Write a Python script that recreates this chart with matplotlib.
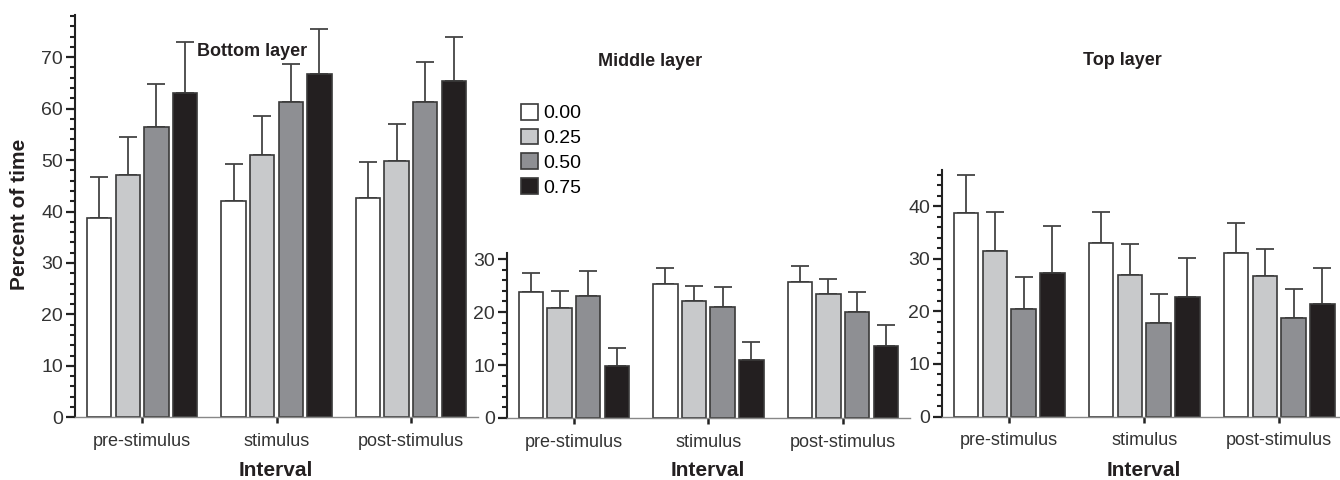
import numpy as np
import matplotlib
matplotlib.use('Agg')
from matplotlib import pyplot as plt
from matplotlib.ticker import MultipleLocator

plt.rcParams['font.family'] = ['Liberation Sans', 'DejaVu Sans']

# Data (rows = concentration, columns = interval)
intervals = ['pre-stimulus', 'stimulus', 'post-stimulus']
concentrations = ['0.00', '0.25', '0.50', '0.75']
colors = ['#ffffff', '#c8c9cb', '#8e8f93', '#231f20']

bottom_mean = [[38.8, 42.0, 42.7], [47.1, 51.0, 49.9], [56.4, 61.3, 61.3], [63.0, 66.8, 65.3]]
bottom_sd = [[7.9, 7.3, 6.9], [7.4, 7.6, 7.1], [8.4, 7.4, 7.7], [10.0, 8.7, 8.6]]

middle_mean = [[23.8, 25.3, 25.7], [20.8, 22.1, 23.4], [23.1, 21.0, 20.1], [9.8, 10.9, 13.6]]
middle_sd = [[3.6, 3.1, 3.0], [3.2, 2.9, 2.8], [4.6, 3.8, 3.7], [3.5, 3.5, 3.9]]

top_mean = [[38.8, 33.0, 31.2], [31.6, 26.9, 26.7], [20.4, 17.8, 18.7], [27.4, 22.7, 21.4]]
top_sd = [[7.2, 6.0, 5.6], [7.3, 5.9, 5.2], [6.1, 5.5, 5.5], [8.9, 7.5, 6.9]]

W, H = 1340, 480
fig = plt.figure(figsize=(W / 100, H / 100), dpi=100)


def rect(x0, y0, x1, y1):
    return [x0 / W, 1 - y1 / H, (x1 - x0) / W, (y1 - y0) / H]


def draw(ax, means, sds, ymax, xmax=2.5):
    x = np.arange(len(intervals))
    step = 0.213
    for i in range(len(concentrations)):
        off = (i - 1.5) * step
        ax.bar(x + off, means[i], 0.182, color=colors[i], edgecolor='#3a3a3a',
               linewidth=1.2, zorder=2, label=concentrations[i])
        ax.errorbar(x + off, means[i], yerr=[np.zeros(3), sds[i]], fmt='none',
                    ecolor='#444444', elinewidth=1.3, capsize=6.5, capthick=1.3, zorder=1)
    ax.set_xlim(-0.5, xmax)
    ax.set_ylim(0, ymax)
    ax.set_xticks(x)
    ax.set_xticklabels(intervals, fontsize=13, color='#333333')
    ax.yaxis.set_major_locator(MultipleLocator(10))
    ax.yaxis.set_minor_locator(MultipleLocator(2))
    ax.tick_params(axis='y', which='major', length=6.5, width=1.6, labelsize=14,
                   labelcolor='#333333', color='#222222', pad=2)
    ax.tick_params(axis='y', which='minor', length=3.6, width=1.5, color='#222222')
    ax.tick_params(axis='x', length=4.3, width=1.8, color='#222222', pad=7)
    for s in ['top', 'right']:
        ax.spines[s].set_visible(False)
    ax.spines['left'].set_color('#222222')
    ax.spines['left'].set_linewidth(1.5)
    ax.spines['bottom'].set_color('#888888')
    ax.spines['bottom'].set_linewidth(1.0)
    ax.patch.set_alpha(0)


ax1 = fig.add_axes(rect(75, 15, 478, 417.3))
draw(ax1, bottom_mean, bottom_sd, 78.2)
ax2 = fig.add_axes(rect(506.7, 252.7, 910, 418))
draw(ax2, middle_mean, middle_sd, 31.2)
ax3 = fig.add_axes(rect(941.7, 170, 1340, 416.5))
draw(ax3, top_mean, top_sd, 46.95, xmax=2.45)

# titles and labels
def ftext(x, y, s, **kw):
    fig.text(x / W, 1 - y / H, s, ha='center', va='center', fontweight='bold',
             color='#231f20', **kw)

ftext(251.7, 51.7, 'Bottom layer', fontsize=13)
ftext(650, 61.7, 'Middle layer', fontsize=13)
ftext(1122, 60.7, 'Top layer', fontsize=13)
ftext(276, 471, 'Interval', fontsize=15)
ftext(708, 471, 'Interval', fontsize=15)
ftext(1144, 471, 'Interval', fontsize=15)
ftext(20, 214, 'Percent of time', fontsize=15, rotation=90)

handles, labels = ax1.get_legend_handles_labels()
fig.legend(handles, labels, loc='upper left', bbox_to_anchor=(521 / W, 1 - 104 / H),
           frameon=False, fontsize=14, handlelength=0.85, handleheight=0.85,
           handletextpad=0.3, labelspacing=0.32, borderpad=0, borderaxespad=0)

plt.savefig('out.png', dpi=100)
